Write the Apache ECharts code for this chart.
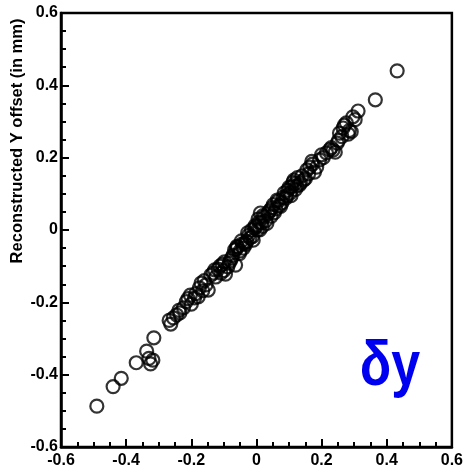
<!DOCTYPE html>
<html>
<head>
<meta charset="utf-8">
<script src="https://cdn.jsdelivr.net/npm/echarts@6/dist/echarts.min.js"></script>
<style>
  html, body { margin: 0; padding: 0; background: #fff; }
  #chart { width: 466px; height: 472px; }
</style>
</head>
<body>
<div id="chart"></div>
<script>
// True offset (mm) vs. reconstructed Y offset (mm)
const trueOffset = [
  -0.490, -0.440, -0.415, -0.369, -0.337, -0.330, -0.325, -0.318, -0.315,
  -0.263, -0.255, -0.245, -0.235, -0.224, -0.210, -0.203, -0.200, -0.190,
  -0.179, -0.175, -0.170, -0.165, -0.160, -0.148, -0.140, -0.133, -0.125,
  -0.118, -0.109, -0.105, -0.100, -0.095, -0.088, -0.080, -0.072, -0.067,
  -0.064, -0.060, -0.058, -0.052, -0.046, -0.040, -0.036, -0.030, -0.027,
  -0.020, -0.015, -0.010, -0.004, 0.000, 0.005, 0.010, 0.012, 0.015,
  0.020, 0.028, 0.035, 0.042, 0.048, 0.055, 0.064, 0.070, 0.078,
  0.085, 0.090, 0.096, 0.103, 0.108, 0.112, 0.115, 0.120, 0.126,
  0.132, 0.140, 0.145, 0.150, 0.155, 0.164, 0.170, 0.178, 0.185,
  0.194, 0.205, 0.215, 0.225, 0.235, 0.242, 0.248, 0.255, 0.262,
  0.266, 0.270, 0.276, 0.285, 0.291, 0.296, 0.303, 0.312, 0.365, 0.432,
  -0.268, -0.238, -0.215, -0.186, -0.155, -0.128, -0.112, -0.098, -0.084,
  -0.076, -0.062, -0.050, -0.043, -0.033, -0.024, -0.012, -0.006, 0.003,
  0.008, 0.018, 0.024, 0.032, 0.038, 0.045, 0.052, 0.060, 0.067,
  0.074, 0.082, 0.093, 0.100, 0.106, 0.118, 0.124, 0.135, 0.160,
  0.172, 0.200, 0.230, 0.252, 0.282
];
const reconstructedY = [
  -0.487, -0.433, -0.410, -0.367, -0.335, -0.355, -0.370, -0.360, -0.298,
  -0.260, -0.243, -0.235, -0.229, -0.215, -0.190, -0.180, -0.205, -0.188,
  -0.185, -0.160, -0.147, -0.168, -0.140, -0.166, -0.125, -0.119, -0.130,
  -0.108, -0.119, -0.095, -0.112, -0.122, -0.102, -0.085, -0.070, -0.055,
  -0.097, -0.045, -0.047, -0.065, -0.030, -0.050, -0.036, -0.032, -0.008,
  -0.022, 0.000, -0.028, 0.012, 0.010, 0.030, 0.000, 0.047, 0.020,
  0.040, 0.025, 0.045, 0.055, 0.062, 0.048, 0.083, 0.068, 0.075,
  0.102, 0.088, 0.110, 0.102, 0.120, 0.132, 0.138, 0.112, 0.145,
  0.125, 0.150, 0.138, 0.142, 0.166, 0.174, 0.190, 0.160, 0.174,
  0.194, 0.200, 0.213, 0.222, 0.221, 0.215, 0.240, 0.268, 0.258,
  0.282, 0.290, 0.296, 0.275, 0.272, 0.313, 0.305, 0.329, 0.360, 0.440,
  -0.250, -0.222, -0.198, -0.176, -0.152, -0.110, -0.100, -0.088, -0.092,
  -0.078, -0.052, -0.058, -0.038, -0.040, -0.015, -0.018, 0.005, 0.000,
  0.022, 0.010, 0.036, 0.018, 0.050, 0.038, 0.070, 0.058, 0.080,
  0.065, 0.090, 0.095, 0.118, 0.095, 0.128, 0.122, 0.130, 0.155,
  0.182, 0.208, 0.228, 0.248, 0.265
];

const axisTicks = [-0.6, -0.4, -0.2, 0, 0.2, 0.4, 0.6];

const points = trueOffset.map((x, i) => [x, reconstructedY[i]]);

const fmt = v => {
  const t = axisTicks.find(k => Math.abs(k - v) < 1e-9);
  if (t === undefined) return '';
  return t === 0 ? '0' : t.toFixed(1);
};

const labelFont = {
  color: '#000',
  fontFamily: 'Liberation Sans, Arial, sans-serif',
  fontWeight: 'bold',
  fontSize: 16
};

function axisCommon() {
  return {
    type: 'value',
    min: -0.6,
    max: 0.6,
    interval: 0.2,
    axisLine: { show: true, onZero: false, lineStyle: { color: '#000', width: 2.5 } },
    axisTick: { show: true, inside: true, length: 8, lineStyle: { color: '#000', width: 2 } },
    minorTick: { show: true, splitNumber: 4, length: 5, lineStyle: { color: '#000', width: 2 } },
    splitLine: { show: false }
  };
}

const chart = echarts.init(document.getElementById('chart'), null, { renderer: 'canvas' });

chart.setOption({
  animation: false,
  backgroundColor: '#fff',
  grid: {
    left: 61, top: 13, right: 9, bottom: 25,
    show: true, borderColor: '#000', borderWidth: 2.5, backgroundColor: 'transparent'
  },
  xAxis: Object.assign(axisCommon(), {
    axisLabel: Object.assign({ formatter: fmt, margin: 6, showMinLabel: true, showMaxLabel: true }, labelFont)
  }),
  yAxis: Object.assign(axisCommon(), {
    axisLabel: Object.assign({ formatter: fmt, margin: 3, showMinLabel: true, showMaxLabel: true }, labelFont)
  }),
  series: [{
    type: 'scatter',
    data: points,
    symbol: 'circle',
    symbolSize: 13,
    itemStyle: { color: 'rgba(255,255,255,0)', borderColor: '#000', borderWidth: 2.2 },
    emphasis: { disabled: true }
  }],
  graphic: [
    {
      type: 'text',
      x: 17, y: 141,
      rotation: Math.PI / 2,
      style: {
        text: 'Reconstructed Y offset (in mm)',
        fill: '#000',
        font: 'bold 16.5px "Liberation Sans", Arial, sans-serif',
        align: 'center',
        verticalAlign: 'middle'
      }
    },
    {
      type: 'text',
      x: 390, y: 368,
      scaleY: 1.2,
      style: {
        text: 'δy',
        fill: '#0000f0',
        font: 'bold 52px "Liberation Sans", Arial, sans-serif',
        align: 'center',
        verticalAlign: 'middle'
      }
    }
  ]
});
</script>
</body>
</html>
